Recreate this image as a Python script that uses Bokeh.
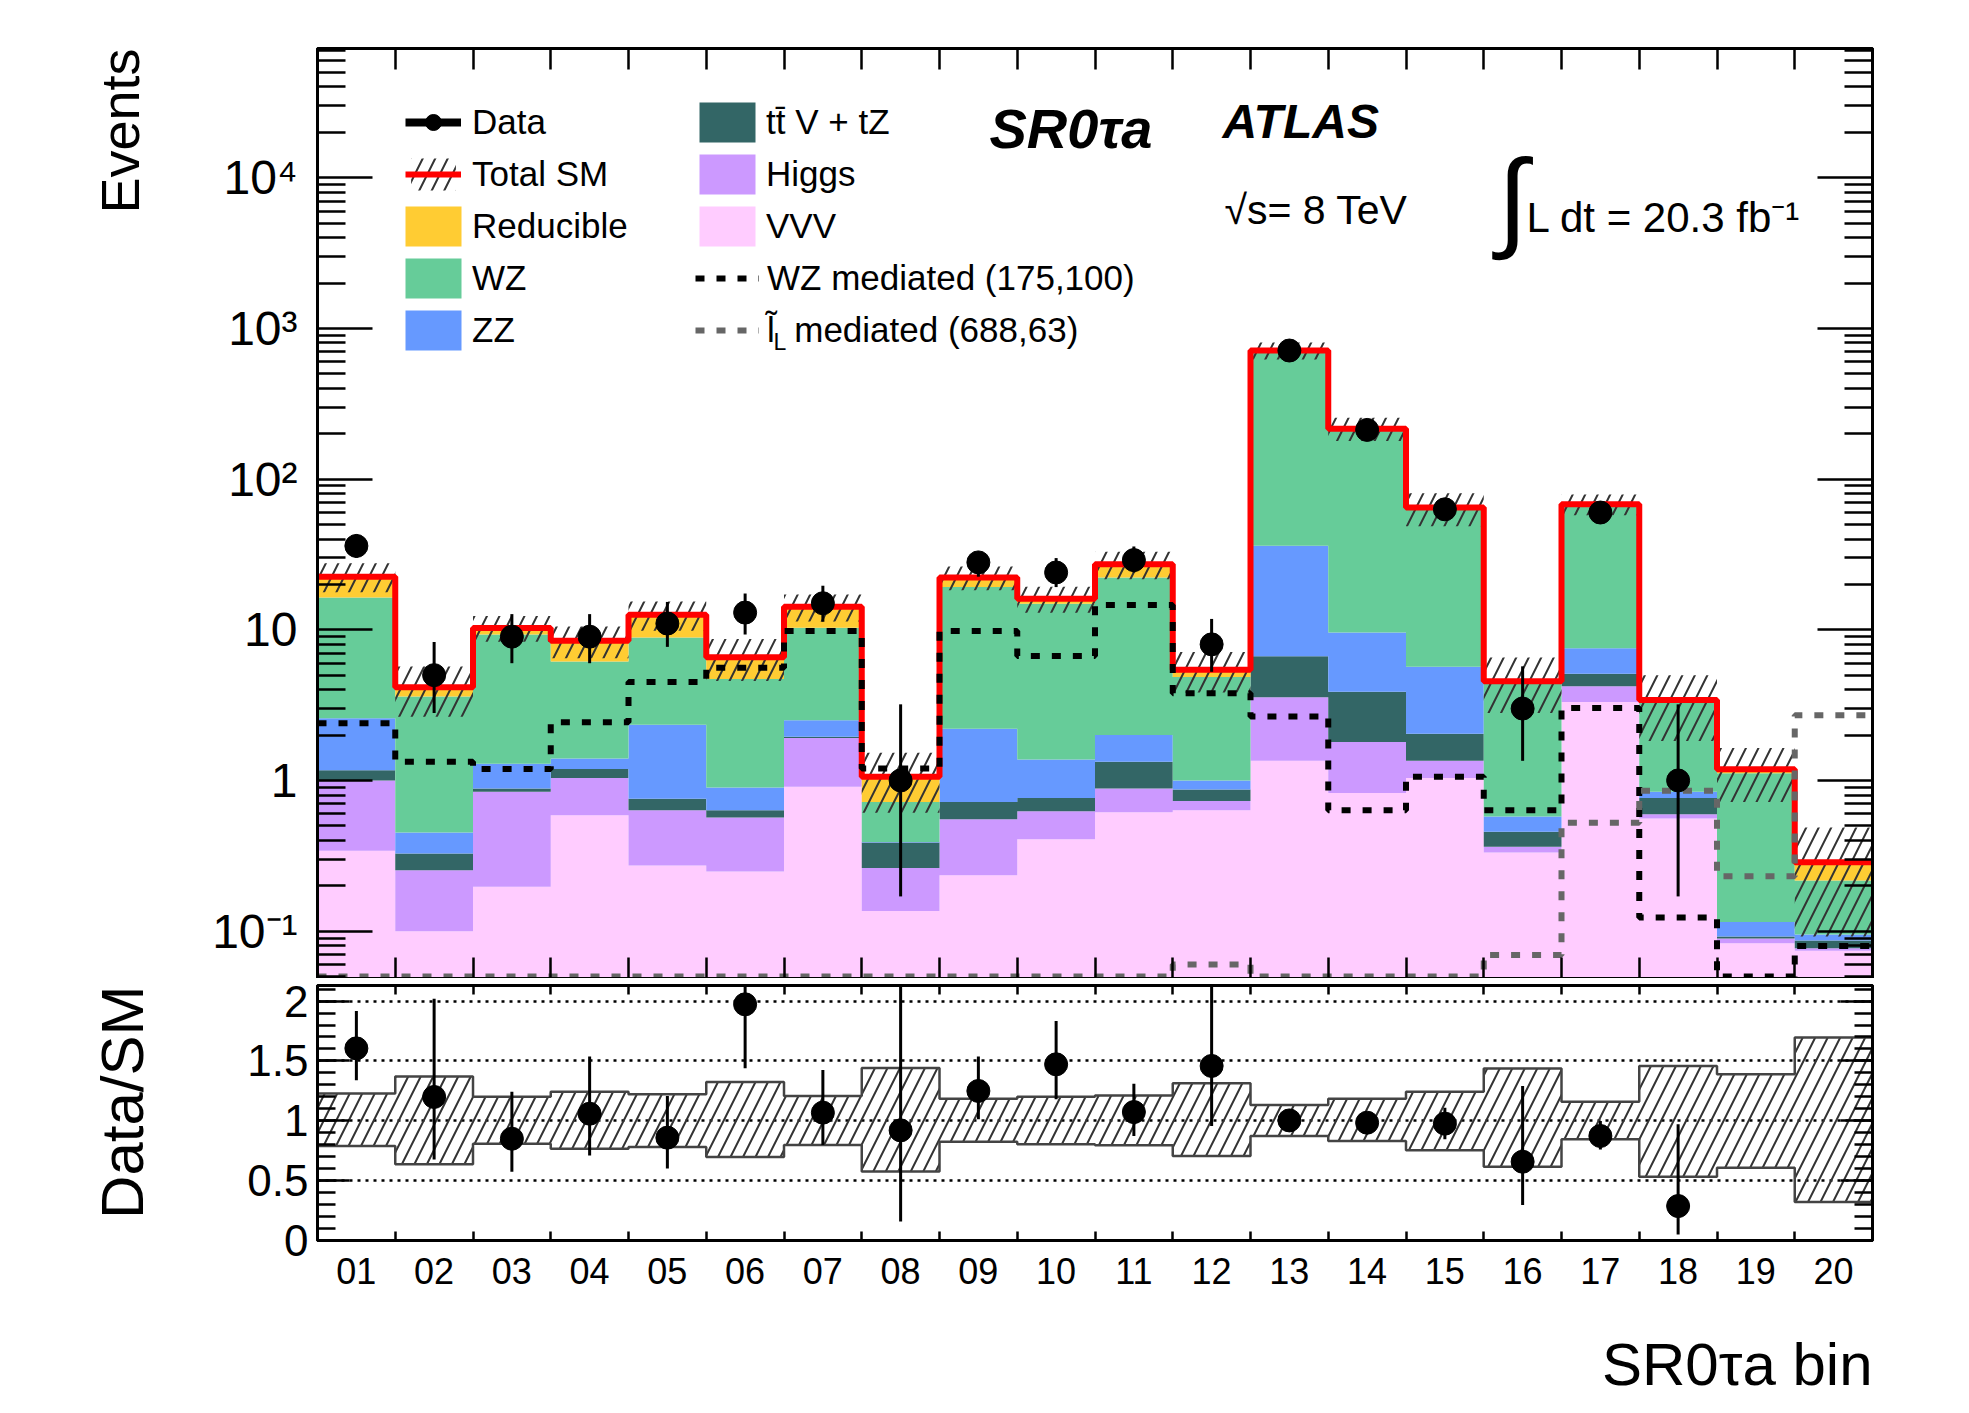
import numpy as np
from bokeh.plotting import figure
from bokeh.models import FixedTicker, LogAxis, LinearAxis, Label, Legend, LegendItem, Range1d, Title
from bokeh.layouts import column
from bokeh.embed import file_html
from bokeh.resources import INLINE

# ---------------- data ----------------
bin_labels = ["01", "02", "03", "04", "05", "06", "07", "08", "09", "10",
              "11", "12", "13", "14", "15", "16", "17", "18", "19", "20"]

vvv = [0.341, 0.100, 0.197, 0.587, 0.273, 0.249, 0.91, 0.136, 0.235, 0.407,
       0.614, 0.634, 1.35, 0.827, 1.04, 0.333, 3.32, 0.559, 0.083, 0.074]
higgs = [0.659, 0.154, 0.645, 0.453, 0.361, 0.319, 1.00, 0.126, 0.317, 0.218,
         0.271, 0.096, 2.21, 0.973, 0.31, 0.030, 0.90, 0.037, 0.0063, 0.003]
ttv = [0.17, 0.073, 0.043, 0.15, 0.123, 0.066, 0.04, 0.125, 0.168, 0.141,
       0.445, 0.14, 3.12, 2.08, 0.69, 0.093, 0.88, 0.17, 0.0027, 0.0097]
zz = [1.42, 0.124, 0.405, 0.21, 1.583, 0.264, 0.56, 0.003, 1.48, 0.614,
      0.67, 0.13, 29.4, 5.7, 3.65, 0.121, 2.45, 0.076, 0.023, 0.0083]
wz = [13.8, 3.15, 8.0, 4.75, 6.56, 3.82, 7.8, 0.33, 17.0, 13.5,
      20.2, 3.85, 676.0, 206.0, 59.0, 3.98, 59.5, 2.58, 1.0, 0.122]
reducible = [6.1, 0.56, 1.0, 2.3, 3.7, 1.84, 3.9, 0.34, 3.0, 1.2,
             5.0, 0.58, 0.0, 0.0, 0.0, 0.0, 1.0, 0.0, 0.07, 0.07]

# relative uncertainty band on total SM (lower / upper edge, as ratio)
band_lo = [0.789, 0.636, 0.808, 0.767, 0.781, 0.697, 0.798, 0.577, 0.825, 0.805,
           0.796, 0.706, 0.873, 0.831, 0.753, 0.616, 0.845, 0.533, 0.608, 0.321]
band_hi = [1.227, 1.369, 1.201, 1.243, 1.221, 1.324, 1.207, 1.441, 1.185, 1.201,
           1.212, 1.313, 1.132, 1.185, 1.243, 1.436, 1.160, 1.458, 1.388, 1.695]

data = [36, 5, 9, 9, 11, 13, 15, 1, 28, 24, 29, 8, 713, 212, 63, 3, 60, 1, 0, 0]
data_hi = [43, 8.3, 12.7, 12.7, 15.3, 17.4, 19.6, 3.2, 32.9, 29.9,
           35.7, 11.8, 740, 227, 71, 5.72, 68, 3.2, 0, 0]
data_lo = [30, 2.8, 6.0, 6.0, 7.7, 9.3, 11.3, 0.17, 22.5, 19.2,
           24.0, 5.26, 686, 197, 55, 1.35, 52, 0.17, 0, 0]

wz_med = [2.4, 1.33, 1.19, 2.43, 4.5, 5.6, 9.8, 1.2, 9.8, 6.7,
          14.6, 3.79, 2.66, 0.634, 1.06, 0.634, 3.02, 0.123, 0.05, 0.0798]
sl_med = [0.05, 0.05, 0.05, 0.05, 0.05, 0.05, 0.05, 0.05, 0.05, 0.05,
          0.05, 0.06, 0.05, 0.05, 0.05, 0.0695, 0.524, 0.853, 0.231, 2.71]

ratio = [1.605, 1.199, 0.850, 1.059, 0.859, 1.973, 1.068, 0.92, 1.249, 1.472,
         1.073, 1.458, 1.003, 0.984, 0.976, 0.658, 0.873, 0.288]
ratio_lo = [1.338, 0.677, 0.574, 0.711, 0.602, 1.438, 0.798, 0.159, 1.012, 1.179,
            0.873, 0.956, 0.965, 0.930, 0.845, 0.296, 0.761, 0.05]
ratio_hi = [1.918, 2.02, 1.243, 1.536, 1.207, 2.65, 1.425, 3.0, 1.536, 1.834,
            1.310, 2.17, 1.040, 1.050, 1.109, 1.291, 0.998, 0.970]

# ---------------- helpers ----------------
n = len(bin_labels)
edges = np.arange(n + 1, dtype=float)
centers = edges[:-1] + 0.5
FONT = "Liberation Sans"
LEFT = 315
FW = 1555


def step_xy(vals):
    xs = np.repeat(edges, 2)[1:-1]
    ys = np.repeat(np.asarray(vals, dtype=float), 2)
    return xs, ys


def step_line(vals):
    v = np.asarray(vals, dtype=float)
    return edges, np.append(v, v[-1])


def hide_labels(ax, ticks):
    ax.major_label_overrides = {t: "" for t in ticks}
    ax.major_label_text_font_size = "1px"
    ax.major_label_standoff = 0


def style_ax(ax, maj_in, min_in):
    ax.major_tick_in = maj_in
    ax.major_tick_out = 0
    ax.minor_tick_in = min_in
    ax.minor_tick_out = 0
    ax.axis_line_width = 3
    ax.axis_line_color = "black"
    ax.major_tick_line_width = 2.5
    ax.minor_tick_line_width = 2.5
    ax.major_tick_line_color = "black"
    ax.minor_tick_line_color = "black"
    ax.major_label_text_font = FONT
    ax.major_label_text_color = "black"


def lab(p, x, y, text, size, style="normal", align="left", baseline="middle"):
    p.add_layout(Label(x=x, y=y, x_units="screen", y_units="screen", text=text,
                       text_font=FONT, text_font_size=size, text_font_style=style,
                       text_align=align, text_baseline=baseline, text_color="black"))


# ---------------- upper panel ----------------
FH1 = 930
TOP1 = 48
p1 = figure(y_axis_type="log", x_range=Range1d(0, 20), y_range=Range1d(0.0485, 7.2e4),
            frame_width=FW, frame_height=FH1,
            min_border_left=LEFT, min_border_top=TOP1, min_border_right=80, min_border_bottom=0,
            toolbar_location=None, output_backend="svg")
p1.grid.visible = False
p1.outline_line_color = "black"
p1.outline_line_width = 3
p1.background_fill_color = "white"
p1.border_fill_color = "white"

comps = [("VVV", vvv, "#FFCCFF"), ("Higgs", higgs, "#CC99FF"), ("ttV", ttv, "#336666"),
         ("ZZ", zz, "#6699FF"), ("WZ", wz, "#66CC99"), ("Reducible", reducible, "#FFCC33")]
cum = np.zeros(n)
rend = {}
for name, vals, col in comps:
    lo = np.where(cum <= 0, 1e-3, cum)
    cum = cum + np.asarray(vals, dtype=float)
    xs, y1 = step_xy(lo)
    _, y2 = step_xy(cum)
    rend[name] = p1.varea(x=xs, y1=y1, y2=y2, fill_color=col)
total = cum

xs, b1 = step_xy(total * np.asarray(band_lo))
_, b2 = step_xy(total * np.asarray(band_hi))
r_band = p1.varea(x=xs, y1=b1, y2=b2, fill_alpha=0, hatch_pattern="/",
                  hatch_color="#333333", hatch_weight=2, hatch_scale=25)

ex, ey = step_line(total)
r_total = p1.step(x=ex, y=ey, mode="after", line_color="#FF0000", line_width=6)

ex, ey = step_line(wz_med)
r_wzm = p1.step(x=ex, y=ey, mode="after", line_color="black", line_width=6, line_dash="9 12")
ex, ey = step_line(sl_med)
r_slm = p1.step(x=ex, y=ey, mode="after", line_color="#666666", line_width=6, line_dash="9 12")

mask = np.asarray(data) > 0
dx = centers[mask]
d_lo = np.asarray(data_lo, float)[mask]
d_hi = np.asarray(data_hi, float)[mask]
r_err = p1.segment(x0=dx, y0=d_lo, x1=dx, y1=d_hi, line_color="black", line_width=3)
r_pts = p1.scatter(x=dx, y=np.asarray(data, float)[mask], size=23, marker="circle",
                   fill_color="black", line_color="black")
# thick copy of the error bars, hidden: only used for the legend swatch
r_dleg = p1.segment(x0=dx, y0=d_lo, x1=dx, y1=d_hi, line_color="black", line_width=8,
                    visible=False)

# axes upper
ymaj = [0.1, 1, 10, 100, 1000, 10000]
ymin = [k * 10.0 ** d for d in range(-2, 5) for k in range(2, 10) if 0.0485 <= k * 10.0 ** d <= 7.2e4]
yt = FixedTicker(ticks=ymaj, minor_ticks=ymin)
ax = p1.yaxis[0]
ax.ticker = yt
ax.major_label_overrides = {0.1: "10\u207b\u00b9", 1: "1", 10: "10", 100: "10\u00b2",
                            1000: "10\u00b3", 10000: "10\u2074"}
style_ax(ax, 55, 28)
ax.major_label_text_font_size = "48px"
ax.major_label_standoff = 20

ax_r = LogAxis(ticker=yt)
style_ax(ax_r, 55, 28)
hide_labels(ax_r, ymaj)
p1.add_layout(ax_r, "right")

edge_list = [int(e) for e in edges]
xt_edges = FixedTicker(ticks=edge_list, minor_ticks=[])
axb = p1.xaxis[0]
axb.ticker = xt_edges
style_ax(axb, 21, 0)
hide_labels(axb, edge_list)
ax_t = LinearAxis(ticker=xt_edges)
style_ax(ax_t, 21, 0)
hide_labels(ax_t, edge_list)
p1.add_layout(ax_t, "above")

p1.add_layout(Title(text="Events", align="right", vertical_align="middle", offset=0,
                    standoff=118, text_font=FONT, text_font_size="54px",
                    text_font_style="normal", text_color="black"), "left")

FB = TOP1 + FH1  # frame bottom in page pixels

# legends: rows centred at page y = 121.7 + 52*i
ROW0, PITCH = 121.7, 52
common = dict(padding=0, margin=0, border_line_alpha=0, background_fill_alpha=0,
              label_text_font=FONT, label_text_font_size="35px", label_text_color="black")
line_kw = dict(glyph_height=40, label_height=40, spacing=PITCH - 40, **common)
area_kw = dict(glyph_width=70, glyph_height=50, label_height=50, spacing=PITCH - 50,
               label_standoff=4, **common)


def leg_y(first_row, nrows, gh):
    top = ROW0 + PITCH * first_row - gh / 2
    bottom = top + nrows * gh + (nrows - 1) * (PITCH - gh)
    return FB - bottom


legA = Legend(items=[LegendItem(label="Data", renderers=[r_dleg, r_pts]),
                     LegendItem(label="Total SM", renderers=[r_band, r_total])],
              location=(403 - LEFT, leg_y(0, 2, 40)), glyph_width=56, label_standoff=11, **line_kw)
legB = Legend(items=[LegendItem(label="Reducible", renderers=[rend["Reducible"]]),
                     LegendItem(label="WZ", renderers=[rend["WZ"]]),
                     LegendItem(label="ZZ", renderers=[rend["ZZ"]])],
              location=(396 - LEFT, leg_y(2, 3, 50)), **area_kw)
legC = Legend(items=[LegendItem(label="tt\u0304 V + tZ", renderers=[rend["ttV"]]),
                     LegendItem(label="Higgs", renderers=[rend["Higgs"]]),
                     LegendItem(label="VVV", renderers=[rend["VVV"]])],
              location=(690 - LEFT, leg_y(0, 3, 50)), **area_kw)
legD = Legend(items=[LegendItem(label="WZ mediated (175,100)", renderers=[r_wzm]),
                     LegendItem(label="l\u0303  mediated (688,63)", renderers=[r_slm])],
              location=(693 - LEFT, leg_y(3, 2, 40)), glyph_width=64, label_standoff=8, **line_kw)
for lg in (legA, legB, legC, legD):
    p1.add_layout(lg)

lab(p1, 771 - LEFT, FB - 341, "L", "23px")
lab(p1, 987 - LEFT, FB - 128, "SR0\u03c4a", "56px", "bold italic")
lab(p1, 1220 - LEFT, FB - 121, "ATLAS", "48px", "bold italic")
lab(p1, 1222 - LEFT, FB - 209, "\u221as= 8 TeV", "41px")
lab(p1, 1495 - LEFT, FB - 198, "\u222b", "110px")
lab(p1, 1524 - LEFT, FB - 217, "L dt = 20.3 fb\u207b\u00b9", "42px")

# ---------------- lower panel ----------------
p2 = figure(x_range=p1.x_range, y_range=Range1d(0, 2.13),
            frame_width=FW, frame_height=255,
            min_border_left=LEFT, min_border_top=7, min_border_right=80, min_border_bottom=80,
            toolbar_location=None, output_backend="svg")
p2.outline_line_color = "black"
p2.outline_line_width = 3
p2.xgrid.visible = False
p2.ygrid.ticker = FixedTicker(ticks=[0.5, 1, 1.5, 2])
p2.ygrid.grid_line_color = "black"
p2.ygrid.grid_line_dash = "3 5"
p2.ygrid.grid_line_width = 2.5

xs, q1 = step_xy(band_lo)
_, q2 = step_xy(band_hi)
p2.varea(x=xs, y1=q1, y2=q2, fill_alpha=0, hatch_pattern="/",
         hatch_color="#333333", hatch_weight=2, hatch_scale=25)
ex, ey = step_line(band_lo)
p2.step(x=ex, y=ey, mode="after", line_color="#444444", line_width=2.5)
ex, ey = step_line(band_hi)
p2.step(x=ex, y=ey, mode="after", line_color="#444444", line_width=2.5)

rx = centers[:len(ratio)]
p2.segment(x0=rx, y0=ratio_lo, x1=rx, y1=ratio_hi, line_color="black", line_width=3)
p2.scatter(x=rx, y=ratio, size=23, marker="circle", fill_color="black", line_color="black")

ay = p2.yaxis[0]
ymaj2 = [0, 0.5, 1, 1.5, 2]
yt2 = FixedTicker(ticks=ymaj2, minor_ticks=[round(0.1 * i, 1) for i in range(22)])
ay.ticker = yt2
ay.major_label_overrides = {0: "0", 0.5: "0.5", 1: "1", 1.5: "1.5", 2: "2"}
style_ax(ay, 32, 18)
ay.major_label_text_font_size = "44px"
ay.major_label_standoff = 9
ay_r = LinearAxis(ticker=yt2)
style_ax(ay_r, 32, 18)
hide_labels(ay_r, ymaj2)
p2.add_layout(ay_r, "right")

axx = p2.xaxis[0]
axx.ticker = FixedTicker(ticks=list(centers), minor_ticks=list(edges))
axx.major_label_overrides = {float(c): s for c, s in zip(centers, bin_labels)}
style_ax(axx, 0, 9)
axx.major_tick_line_color = None
axx.major_label_text_font_size = "36px"
axx.major_label_standoff = 17
ax2t = LinearAxis(ticker=FixedTicker(ticks=edge_list, minor_ticks=[]))
style_ax(ax2t, 9, 0)
hide_labels(ax2t, edge_list)
p2.add_layout(ax2t, "above")

p2.add_layout(Title(text="Data/SM", align="right", vertical_align="middle", offset=0,
                    standoff=175, text_font=FONT, text_font_size="60px",
                    text_font_style="normal", text_color="black"), "left")

# ---------------- strip holding the x-axis title ----------------
FH3 = 86
p3 = figure(x_range=p1.x_range, y_range=Range1d(0, 1), frame_width=FW, frame_height=FH3,
            min_border_left=LEFT, min_border_top=0, min_border_right=80, min_border_bottom=0,
            x_axis_type=None, y_axis_type=None, toolbar_location=None, output_backend="svg")
p3.outline_line_color = None
p3.grid.visible = False
lab(p3, FW, 42, "SR0\u03c4a bin", "60px", align="right")

layout = column(p1, p2, p3, spacing=0)
open("out.html", "w").write(file_html(layout, INLINE))
